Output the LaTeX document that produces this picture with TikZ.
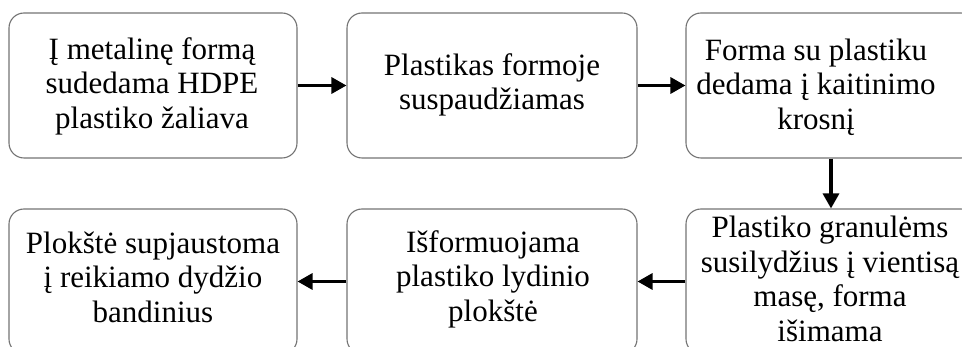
\documentclass[tikz,border=0pt]{standalone}
\usepackage{fontspec}
\setmainfont{Liberation Serif}
\usetikzlibrary{arrows.meta}
\begin{document}
\begin{tikzpicture}[x=1pt,y=-1pt,
  stepbox/.style={draw=black!55,line width=1.1pt,rounded corners=15pt,
    minimum width=288pt,minimum height=145pt,inner sep=0pt},
  steptext/.style={align=center,inner sep=0pt,
    font=\fontsize{31pt}{34.5pt}\selectfont},
  flow/.style={line width=3.2pt,-{Triangle[length=15pt,width=16pt]}}]
\useasboundingbox (0,0) rectangle (962,347);
\begin{scope}
\clip (0,0) rectangle (962,347);
\node[stepbox] (b1) at (153,85.5) {};
\node[stepbox,minimum width=290pt] (b2) at (492,85.5) {};
\node[stepbox,minimum width=290pt] (b3) at (831,85.5) {};
\node[stepbox] (b4) at (153,281.5) {};
\node[stepbox,minimum width=290pt] (b5) at (492,281.5) {};
\node[stepbox,minimum width=290pt] (b6) at (831,281.5) {};
\end{scope}
\node[steptext] (t1) at (152,86) {Į metalinę formą\\sudedama HDPE\\plastiko žaliava};
\node[steptext] (t2) at (492,85) {Plastikas formoje\\suspaudžiamas};
\node[steptext] (t3) at (816,87) {Forma su plastiku\\dedama į kaitinimo\\krosnį};
\node[steptext] (t4) at (153,277) {Plokštė supjaustoma\\į reikiamo dydžio\\bandinius};
\node[steptext] (t5) at (493,279) {Išformuojama\\plastiko lydinio\\plokštė};
\node[steptext] (t6) at (830,279) {Plastiko granulėms\\susilydžius į vientisą\\masę, forma\\išimama};
\draw[flow] (b1.east) -- (b2.west);
\draw[flow] (b2.east) -- (b3.west);
\draw[flow] (b3.south) -- (b6.north);
\draw[flow] (b6.west) -- (b5.east);
\draw[flow] (b5.west) -- (b4.east);
\end{tikzpicture}
\end{document}
